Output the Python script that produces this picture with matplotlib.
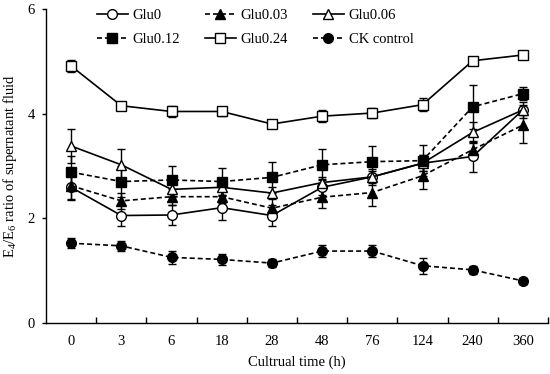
import matplotlib
matplotlib.use("Agg")
import matplotlib.pyplot as plt
import numpy as np

plt.rcParams['font.family'] = ['Liberation Serif', 'DejaVu Serif']
plt.rcParams['mathtext.fontset'] = 'custom'
plt.rcParams['mathtext.rm'] = 'Liberation Serif'
plt.rcParams['mathtext.it'] = 'Liberation Serif:italic'

times = ['0', '3', '6', '18', '28', '48', '76', '124', '240', '360']

glu0 = [2.59, 2.05, 2.06, 2.20, 2.05, 2.59, 2.79, 3.05, 3.18, 4.07]
glu0_err = [0.25, 0.2, 0.2, 0.23, 0.2, 0.15, 0.15, 0.15, 0.3, 0.1]
glu003 = [2.62, 2.33, 2.41, 2.41, 2.19, 2.40, 2.49, 2.81, 3.31, 3.78]
glu003_err = [0.25, 0.15, 0.15, 0.12, 0.2, 0.2, 0.25, 0.25, 0.15, 0.35]
glu006 = [3.38, 3.02, 2.55, 2.59, 2.48, 2.68, 2.79, 3.05, 3.64, 4.07]
glu006_err = [0.33, 0.3, 0.15, 0.15, 0.12, 0.1, 0.12, 0.15, 0.2, 0.15]
glu012 = [2.88, 2.70, 2.73, 2.70, 2.78, 3.02, 3.08, 3.10, 4.13, 4.38]
glu012_err = [0.3, 0.3, 0.26, 0.26, 0.29, 0.3, 0.3, 0.3, 0.42, 0.13]
glu024 = [4.91, 4.15, 4.04, 4.04, 3.80, 3.95, 4.01, 4.17, 5.01, 5.12]
glu024_err = [0.12, 0.08, 0.1, 0.08, 0.07, 0.12, 0.1, 0.13, 0.08, 0.06]
ck = [1.52, 1.47, 1.25, 1.21, 1.14, 1.37, 1.37, 1.09, 1.01, 0.80]
ck_err = [0.1, 0.1, 0.13, 0.1, 0.08, 0.12, 0.11, 0.15, 0.08, 0.06]

fig = plt.figure(figsize=(5.5, 3.74), dpi=100)
ax = fig.add_axes([46/550, 1-322.7/374, 502/550, (322.7-9)/374])

x = np.arange(len(times))
series = [
    ('Glu0', glu0, glu0_err, 'o', 'white', '-'),
    ('Glu0.03', glu003, glu003_err, '^', 'black', '--'),
    ('Glu0.06', glu006, glu006_err, '^', 'white', '-'),
    ('Glu0.12', glu012, glu012_err, 's', 'black', '--'),
    ('Glu0.24', glu024, glu024_err, 's', 'white', '-'),
    ('CK control', ck, ck_err, 'o', 'black', '--'),
]
handles = {}
for name, y, e, m, fc, ls in series:
    ax.errorbar(x, y, yerr=e, fmt='none', ecolor='black', elinewidth=1.0,
                capsize=3, capthick=1.0, zorder=2)
    ln, = ax.plot(x, y, color='black', linestyle=ls, linewidth=1.2,
                  marker=m, markersize=7 if m != '^' else 7.5,
                  markerfacecolor=fc, markeredgecolor='black',
                  markeredgewidth=1.0, dashes=(3.0, 1.8) if ls == '--' else (None, None),
                  zorder=3, label=name)
    handles[name] = ln

ax.set_xlim(-0.5, len(times) - 0.5)
ax.set_ylim(0, 6)
ax.set_yticks([0, 2, 4, 6])
ax.set_xticks(x)
ax.set_xticklabels(times)
ax.set_xticks(np.arange(0.5, len(times), 1.0), minor=True)
ax.tick_params(axis='x', which='major', length=0, pad=9, labelsize=10.5)
ax.tick_params(axis='x', which='minor', direction='in', length=4, width=1)
ax.tick_params(axis='y', which='major', direction='out', length=3, width=1, labelsize=10.5, pad=5)
for s in ['top', 'right']:
    ax.spines[s].set_visible(False)
for s in ['left', 'bottom']:
    ax.spines[s].set_linewidth(1.0)

ax.set_xlabel('Cultrual time (h)', fontsize=10.5, labelpad=5)
ax.set_ylabel('E$_4$/E$_6$ ratio of supernatant fluid', fontsize=10.5)
ax.yaxis.set_label_coords(-0.054, 0.5)

order = ['Glu0', 'Glu0.12', 'Glu0.03', 'Glu0.24', 'Glu0.06', 'CK control']
ax.legend([handles[k] for k in order], order, ncol=3, frameon=False,
          loc='upper left', bbox_to_anchor=(97/550, 1 - 9/374),
          bbox_transform=fig.transFigure, fontsize=10.5, handlelength=2.1,
          columnspacing=1.7, labelspacing=0.75, handletextpad=0.35,
          borderaxespad=0, borderpad=0)

fig.savefig('out.png', dpi=100)
